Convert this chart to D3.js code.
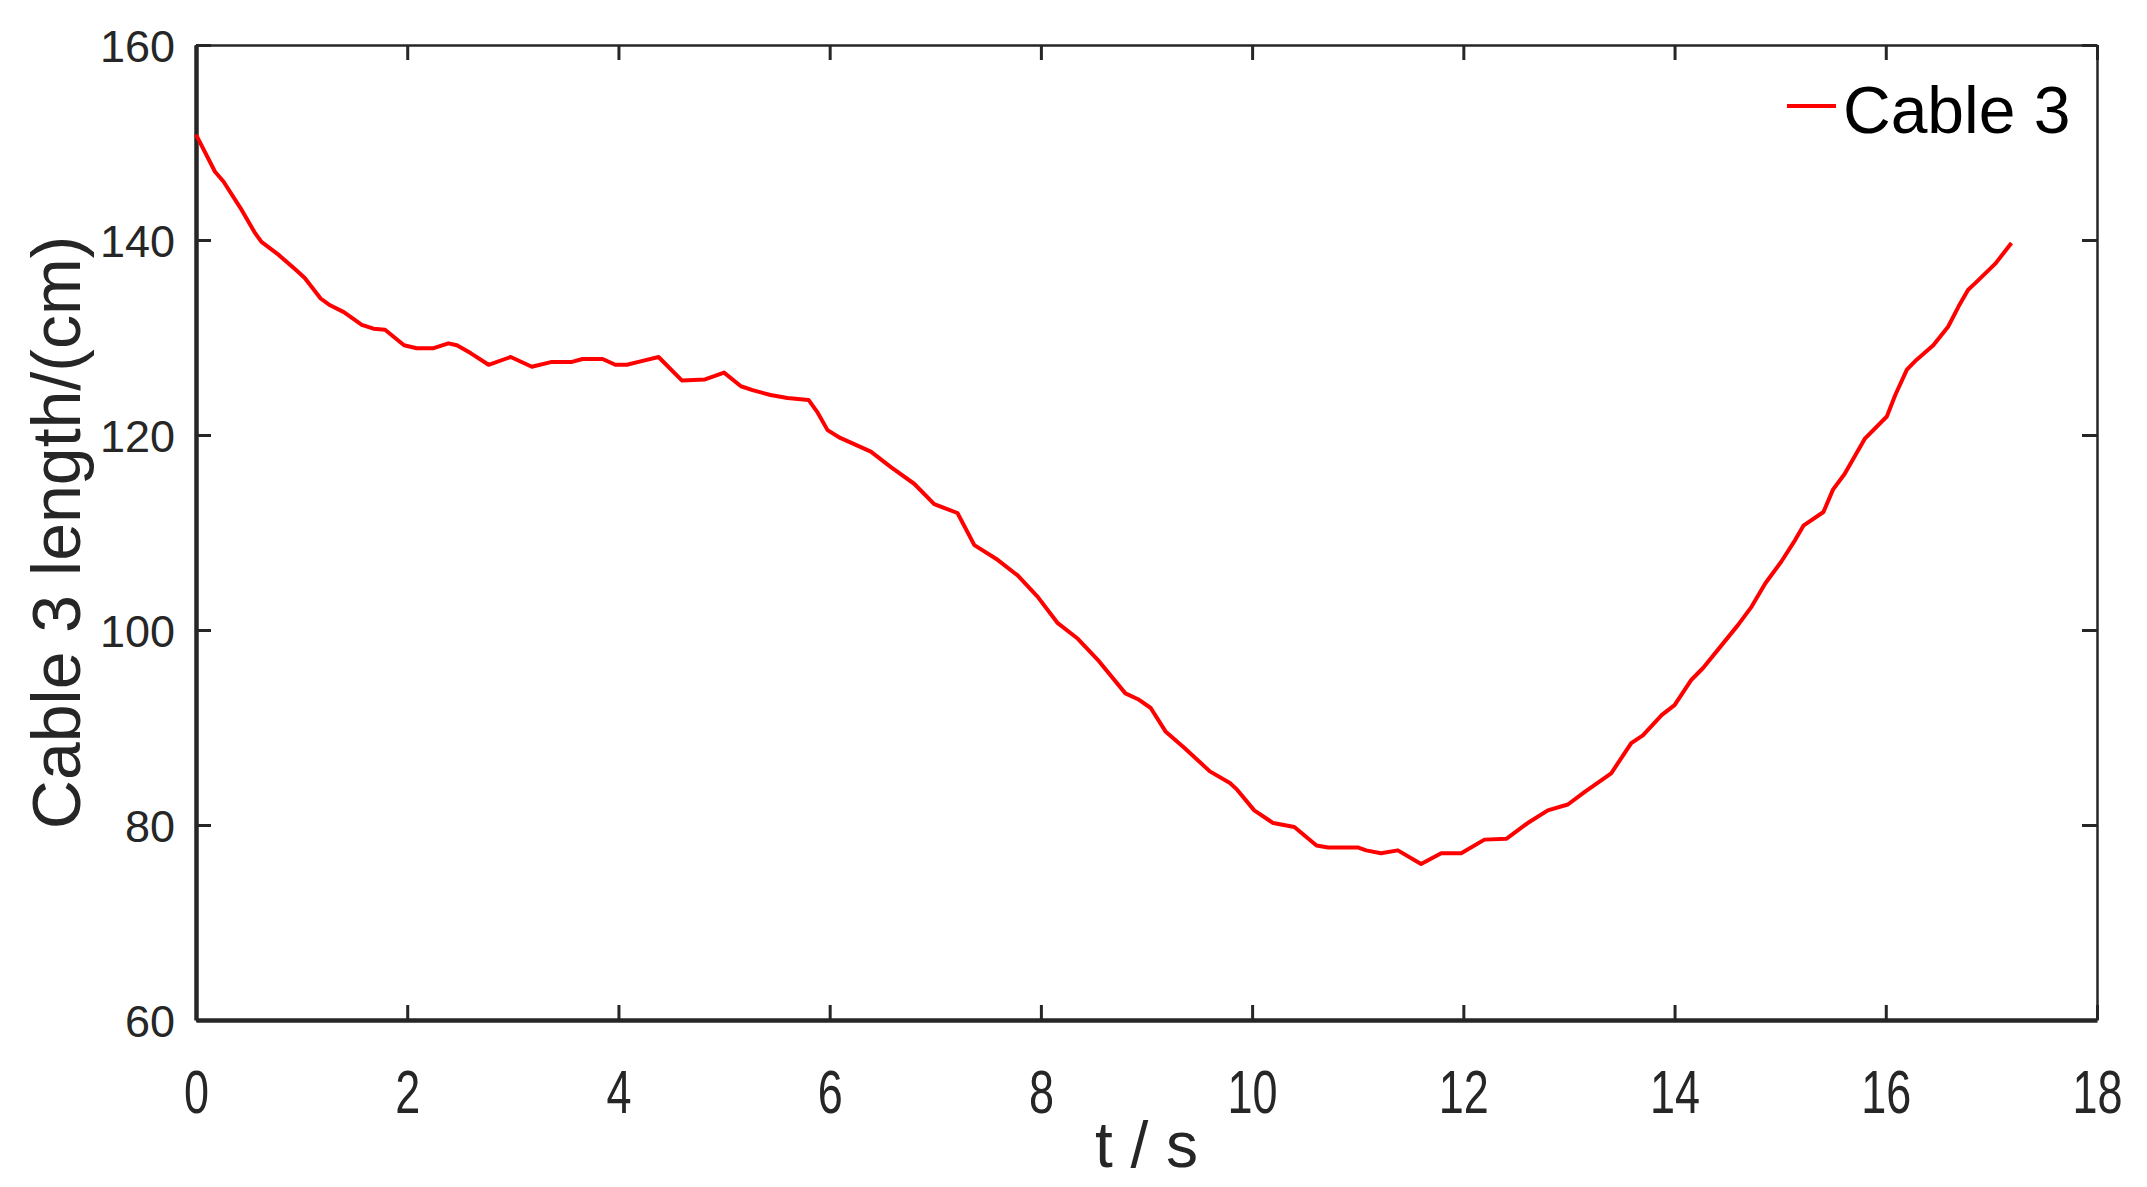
<!DOCTYPE html>
<html>
<head>
<meta charset="utf-8">
<script src="https://cdn.jsdelivr.net/npm/d3@7"></script>
<style>
  body { margin: 0; background: #fff; }
  svg { display: block; font-family: "Liberation Sans", Arial, sans-serif; }
</style>
</head>
<body>
<div class="cable_plot"></div>
<script>
// time (s) and cable 3 length (cm)
const times = [0, 0.18, 0.26, 0.42, 0.56, 0.62, 0.78, 0.95, 1.03, 1.18, 1.27, 1.40, 1.57, 1.68, 1.79,
  1.97, 2.09, 2.25, 2.39, 2.47, 2.60, 2.77, 2.98, 3.18, 3.37, 3.56, 3.66, 3.85, 3.97, 4.08, 4.19,
  4.38, 4.60, 4.82, 5.00, 5.16, 5.27, 5.44, 5.60, 5.80, 5.88, 5.98, 6.10, 6.39, 6.58, 6.80, 6.99,
  7.21, 7.37, 7.59, 7.78, 7.97, 8.16, 8.35, 8.55, 8.80, 8.92, 9.04, 9.18, 9.36, 9.60, 9.79, 9.86,
  10.02, 10.20, 10.40, 10.61, 10.72, 11.00, 11.08, 11.22, 11.38, 11.60, 11.79, 11.98, 12.20, 12.41,
  12.61, 12.80, 12.99, 13.15, 13.40, 13.59, 13.70, 13.88, 14.00, 14.16, 14.27, 14.45, 14.60, 14.73,
  14.86, 15.01, 15.14, 15.22, 15.41, 15.50, 15.61, 15.80, 16.01, 16.09, 16.20, 16.29, 16.45, 16.59,
  16.69, 16.78, 16.85, 17.04, 17.19];
const lengths = [150.8, 147.0, 146.0, 143.3, 140.7, 139.8, 138.5, 136.9, 136.1, 134.0, 133.3, 132.6, 131.3, 130.9, 130.8,
  129.2, 128.9, 128.9, 129.4, 129.2, 128.4, 127.2, 128.0, 127.0, 127.5, 127.5, 127.8, 127.8, 127.2, 127.2, 127.5,
  128.0, 125.6, 125.7, 126.4, 125.0, 124.6, 124.1, 123.8, 123.6, 122.4, 120.5, 119.7, 118.3, 116.7, 115.0, 112.9,
  112.0, 108.7, 107.2, 105.6, 103.4, 100.7, 99.1, 96.8, 93.5, 92.9, 92.0, 89.6, 87.9, 85.5, 84.3, 83.6,
  81.5, 80.2, 79.8, 77.9, 77.7, 77.7, 77.4, 77.1, 77.4, 76.0, 77.1, 77.1, 78.5, 78.6,
  80.2, 81.5, 82.1, 83.4, 85.3, 88.4, 89.2, 91.3, 92.3, 94.9, 96.1, 98.5, 100.5, 102.4,
  104.8, 107.0, 109.2, 110.7, 112.1, 114.4, 116.0, 119.6, 121.9, 124.1, 126.7, 127.7, 129.2, 131.1,
  133.2, 134.9, 135.6, 137.6, 139.7];
const xTicks = [0, 2, 4, 6, 8, 10, 12, 14, 16, 18];
const yTicks = [60, 80, 100, 120, 140, 160];
const seriesName = 'Cable 3';

const data = times.map((t, i) => ({t: t, v: lengths[i]}));

const W = 2147, H = 1187;
const margin = {top: 45, right: 50, bottom: 167, left: 196};
const width = W - margin.left - margin.right,
      height = H - margin.top - margin.bottom;
const axisColor = '#262626';

const xScale = d3.scaleLinear().domain([0, 18]).range([0, width]);
const yScale = d3.scaleLinear().domain([60, 160]).range([height, 0]);

const svg = d3.select('.cable_plot')
              .append('svg')
              .attr('width', W)
              .attr('height', H)
              .append('g')
              .attr('transform', `translate(${margin.left},${margin.top})`);

function styleAxis(g, w) {
  g.select('.domain').attr('stroke', axisColor).attr('stroke-width', w);
  g.selectAll('.tick line').attr('stroke', axisColor).attr('stroke-width', 3);
  g.selectAll('.tick text').attr('fill', axisColor);
}

// top and right (mirror ticks, no labels)
svg.append('g')
   .call(d3.axisTop(xScale).tickValues(xTicks).tickSize(-15).tickSizeOuter(0).tickFormat(''))
   .call(g => styleAxis(g, 2.5));
svg.append('g')
   .attr('transform', `translate(${width},0)`)
   .call(d3.axisRight(yScale).tickValues(yTicks).tickSize(-15).tickSizeOuter(0).tickFormat(''))
   .call(g => styleAxis(g, 2.5));

// bottom axis
const xAxis = svg.append('g')
   .attr('transform', `translate(0,${height})`)
   .call(d3.axisBottom(xScale).tickValues(xTicks).tickSize(-15).tickSizeOuter(0))
   .call(g => styleAxis(g, 4.5));
xAxis.selectAll('.tick text')
   .attr('font-size', 45)
   .attr('y', 0).attr('dy', 0)
   .attr('transform', 'translate(0,93) scale(1,1.35)');

// left axis
const yAxis = svg.append('g')
   .call(d3.axisLeft(yScale).tickValues(yTicks).tickSize(-15).tickSizeOuter(0).tickPadding(21))
   .call(g => styleAxis(g, 4.5));
yAxis.selectAll('.tick text')
   .attr('font-size', 45)
   .attr('dy', '0.36em');

// line
const line = d3.line().x(d => xScale(d.t)).y(d => yScale(d.v));
svg.append('path')
   .datum(data)
   .attr('fill', 'none')
   .attr('stroke', '#ff0000')
   .attr('stroke-width', 4)
   .attr('stroke-linejoin', 'round')
   .attr('d', line);

// legend
const legend = svg.append('g').attr('transform', `translate(${1787 - margin.left},${106 - margin.top})`);
legend.append('line')
   .attr('x1', 0).attr('x2', 49).attr('y1', 0).attr('y2', 0)
   .attr('stroke', '#ff0000').attr('stroke-width', 4);
legend.append('text')
   .attr('x', 56).attr('y', 27)
   .attr('font-size', 66)
   .attr('fill', '#000')
   .text(seriesName);

// axis labels
svg.append('text')
   .attr('x', width / 2)
   .attr('y', 1167 - margin.top)
   .attr('text-anchor', 'middle')
   .attr('font-size', 64)
   .attr('fill', axisColor)
   .text('t / s');

svg.append('text')
   .attr('transform', `translate(${80 - margin.left},${height / 2}) rotate(-90)`)
   .attr('text-anchor', 'middle')
   .attr('font-size', 68)
   .attr('fill', axisColor)
   .text('Cable 3 length/(cm)');
</script>
</body>
</html>
